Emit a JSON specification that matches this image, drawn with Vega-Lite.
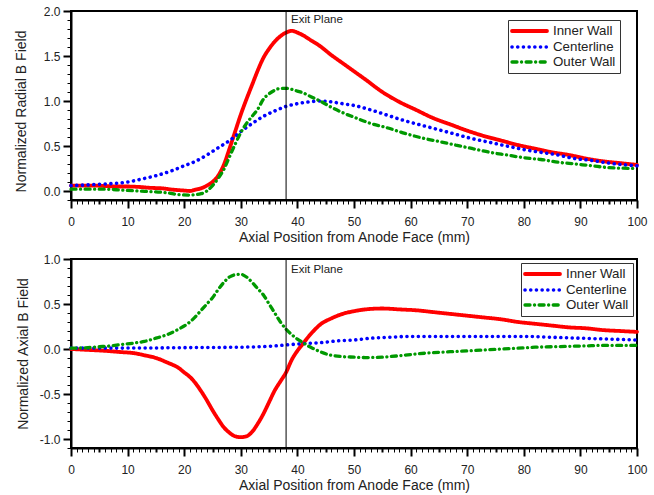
{
  "$schema": "https://vega.github.io/schema/vega-lite/v6.json",
  "background": "white",
  "padding": {"left": 13, "top": 4, "right": 5, "bottom": 5},
  "bounds": "flush",
  "spacing": 59,
  "config": {
    "font": "Liberation Sans",
    "view": {"stroke": "black", "strokeWidth": 2},
    "axis": {
      "domainColor": "black", "domainWidth": 2, "tickColor": "black", "grid": false,
      "labelColor": "#222", "titleColor": "#222", "labelFont": "Liberation Sans", "titleFont": "Liberation Sans",
      "labelFontSize": 12, "titleFontSize": 14, "titleFontWeight": "normal", "labelOverlap": false, "labelFlush": false, "labelBound": false
    },
    "legend": {
      "orient": "none", "title": null, "symbolType": "M-1.4,0H5.6", "symbolSize": 100,
      "labelFont": "Liberation Sans", "labelFontSize": 13.3, "labelColor": "#222", "labelOffset": 27,
      "padding": 4, "rowPadding": 0, "strokeColor": "#333", "fillColor": "white", "cornerRadius": 0
    }
  },
  "datasets": {
    "radial": [
      {"s":"Inner Wall","x":0,"y":0.06},{"s":"Inner Wall","x":2,"y":0.06},{"s":"Inner Wall","x":4,"y":0.06},{"s":"Inner Wall","x":6,"y":0.055},{"s":"Inner Wall","x":8,"y":0.05},{"s":"Inner Wall","x":10,"y":0.05},{"s":"Inner Wall","x":12,"y":0.045},{"s":"Inner Wall","x":14,"y":0.035},{"s":"Inner Wall","x":16,"y":0.03},{"s":"Inner Wall","x":18,"y":0.015},{"s":"Inner Wall","x":20,"y":0.005},{"s":"Inner Wall","x":21,"y":0.0},{"s":"Inner Wall","x":22,"y":0.015},{"s":"Inner Wall","x":23,"y":0.03},{"s":"Inner Wall","x":24,"y":0.06},{"s":"Inner Wall","x":25,"y":0.1},{"s":"Inner Wall","x":26,"y":0.17},{"s":"Inner Wall","x":27,"y":0.29},{"s":"Inner Wall","x":28,"y":0.47},{"s":"Inner Wall","x":29,"y":0.66},{"s":"Inner Wall","x":30,"y":0.85},{"s":"Inner Wall","x":31,"y":1.02},{"s":"Inner Wall","x":32,"y":1.18},{"s":"Inner Wall","x":33,"y":1.34},{"s":"Inner Wall","x":34,"y":1.48},{"s":"Inner Wall","x":35,"y":1.58},{"s":"Inner Wall","x":36,"y":1.66},{"s":"Inner Wall","x":37,"y":1.72},{"s":"Inner Wall","x":38,"y":1.76},{"s":"Inner Wall","x":39,"y":1.78},{"s":"Inner Wall","x":40,"y":1.76},{"s":"Inner Wall","x":41,"y":1.73},{"s":"Inner Wall","x":42,"y":1.69},{"s":"Inner Wall","x":44,"y":1.61},{"s":"Inner Wall","x":46,"y":1.51},{"s":"Inner Wall","x":48,"y":1.42},{"s":"Inner Wall","x":50,"y":1.33},{"s":"Inner Wall","x":52,"y":1.24},{"s":"Inner Wall","x":55,"y":1.1},{"s":"Inner Wall","x":58,"y":0.99},{"s":"Inner Wall","x":61,"y":0.9},{"s":"Inner Wall","x":64,"y":0.81},{"s":"Inner Wall","x":67,"y":0.74},{"s":"Inner Wall","x":70,"y":0.67},{"s":"Inner Wall","x":73,"y":0.61},{"s":"Inner Wall","x":76,"y":0.56},{"s":"Inner Wall","x":79,"y":0.51},{"s":"Inner Wall","x":82,"y":0.47},{"s":"Inner Wall","x":85,"y":0.43},{"s":"Inner Wall","x":88,"y":0.4},{"s":"Inner Wall","x":91,"y":0.36},{"s":"Inner Wall","x":94,"y":0.33},{"s":"Inner Wall","x":97,"y":0.31},{"s":"Inner Wall","x":100,"y":0.29},
      {"s":"Centerline","x":0,"y":0.06},{"s":"Centerline","x":5,"y":0.075},{"s":"Centerline","x":10,"y":0.1},{"s":"Centerline","x":13,"y":0.14},{"s":"Centerline","x":15,"y":0.17},{"s":"Centerline","x":18,"y":0.23},{"s":"Centerline","x":20,"y":0.28},{"s":"Centerline","x":22,"y":0.33},{"s":"Centerline","x":24,"y":0.4},{"s":"Centerline","x":26,"y":0.48},{"s":"Centerline","x":28,"y":0.56},{"s":"Centerline","x":30,"y":0.66},{"s":"Centerline","x":32,"y":0.75},{"s":"Centerline","x":34,"y":0.83},{"s":"Centerline","x":36,"y":0.89},{"s":"Centerline","x":38,"y":0.94},{"s":"Centerline","x":40,"y":0.97},{"s":"Centerline","x":42,"y":0.99},{"s":"Centerline","x":44,"y":1.0},{"s":"Centerline","x":46,"y":0.99},{"s":"Centerline","x":48,"y":0.97},{"s":"Centerline","x":50,"y":0.95},{"s":"Centerline","x":53,"y":0.9},{"s":"Centerline","x":56,"y":0.84},{"s":"Centerline","x":59,"y":0.78},{"s":"Centerline","x":62,"y":0.73},{"s":"Centerline","x":65,"y":0.68},{"s":"Centerline","x":68,"y":0.63},{"s":"Centerline","x":71,"y":0.58},{"s":"Centerline","x":74,"y":0.54},{"s":"Centerline","x":77,"y":0.5},{"s":"Centerline","x":80,"y":0.46},{"s":"Centerline","x":83,"y":0.43},{"s":"Centerline","x":86,"y":0.4},{"s":"Centerline","x":89,"y":0.36},{"s":"Centerline","x":92,"y":0.34},{"s":"Centerline","x":95,"y":0.31},{"s":"Centerline","x":98,"y":0.29},{"s":"Centerline","x":100,"y":0.28},
      {"s":"Outer Wall","x":0,"y":0.02},{"s":"Outer Wall","x":3,"y":0.02},{"s":"Outer Wall","x":6,"y":0.02},{"s":"Outer Wall","x":9,"y":0.01},{"s":"Outer Wall","x":12,"y":0.0},{"s":"Outer Wall","x":15,"y":-0.01},{"s":"Outer Wall","x":17,"y":-0.02},{"s":"Outer Wall","x":19,"y":-0.04},{"s":"Outer Wall","x":21,"y":-0.045},{"s":"Outer Wall","x":23,"y":-0.03},{"s":"Outer Wall","x":24,"y":0.0},{"s":"Outer Wall","x":25,"y":0.06},{"s":"Outer Wall","x":26,"y":0.14},{"s":"Outer Wall","x":27,"y":0.24},{"s":"Outer Wall","x":28,"y":0.38},{"s":"Outer Wall","x":29,"y":0.52},{"s":"Outer Wall","x":30,"y":0.65},{"s":"Outer Wall","x":31,"y":0.75},{"s":"Outer Wall","x":32,"y":0.83},{"s":"Outer Wall","x":33,"y":0.91},{"s":"Outer Wall","x":34,"y":1.02},{"s":"Outer Wall","x":35,"y":1.08},{"s":"Outer Wall","x":36,"y":1.12},{"s":"Outer Wall","x":37,"y":1.14},{"s":"Outer Wall","x":38,"y":1.14},{"s":"Outer Wall","x":39,"y":1.13},{"s":"Outer Wall","x":40,"y":1.11},{"s":"Outer Wall","x":41,"y":1.09},{"s":"Outer Wall","x":42,"y":1.06},{"s":"Outer Wall","x":43,"y":1.03},{"s":"Outer Wall","x":44,"y":1.0},{"s":"Outer Wall","x":46,"y":0.93},{"s":"Outer Wall","x":48,"y":0.87},{"s":"Outer Wall","x":50,"y":0.82},{"s":"Outer Wall","x":53,"y":0.75},{"s":"Outer Wall","x":56,"y":0.7},{"s":"Outer Wall","x":59,"y":0.64},{"s":"Outer Wall","x":62,"y":0.59},{"s":"Outer Wall","x":65,"y":0.55},{"s":"Outer Wall","x":68,"y":0.51},{"s":"Outer Wall","x":71,"y":0.47},{"s":"Outer Wall","x":74,"y":0.43},{"s":"Outer Wall","x":77,"y":0.4},{"s":"Outer Wall","x":80,"y":0.37},{"s":"Outer Wall","x":83,"y":0.35},{"s":"Outer Wall","x":86,"y":0.32},{"s":"Outer Wall","x":89,"y":0.3},{"s":"Outer Wall","x":92,"y":0.28},{"s":"Outer Wall","x":95,"y":0.26},{"s":"Outer Wall","x":100,"y":0.25}
    ],
    "axial": [
      {"s":"Inner Wall","x":0,"y":0.0},{"s":"Inner Wall","x":3,"y":-0.01},{"s":"Inner Wall","x":6,"y":-0.02},{"s":"Inner Wall","x":9,"y":-0.035},{"s":"Inner Wall","x":11,"y":-0.045},{"s":"Inner Wall","x":13,"y":-0.07},{"s":"Inner Wall","x":15,"y":-0.1},{"s":"Inner Wall","x":17,"y":-0.15},{"s":"Inner Wall","x":19,"y":-0.21},{"s":"Inner Wall","x":20,"y":-0.26},{"s":"Inner Wall","x":21,"y":-0.31},{"s":"Inner Wall","x":22,"y":-0.38},{"s":"Inner Wall","x":23,"y":-0.47},{"s":"Inner Wall","x":24,"y":-0.57},{"s":"Inner Wall","x":25,"y":-0.68},{"s":"Inner Wall","x":26,"y":-0.78},{"s":"Inner Wall","x":27,"y":-0.87},{"s":"Inner Wall","x":28,"y":-0.93},{"s":"Inner Wall","x":29,"y":-0.97},{"s":"Inner Wall","x":30,"y":-0.98},{"s":"Inner Wall","x":31,"y":-0.97},{"s":"Inner Wall","x":32,"y":-0.92},{"s":"Inner Wall","x":33,"y":-0.83},{"s":"Inner Wall","x":34,"y":-0.72},{"s":"Inner Wall","x":35,"y":-0.59},{"s":"Inner Wall","x":36,"y":-0.46},{"s":"Inner Wall","x":37,"y":-0.36},{"s":"Inner Wall","x":38,"y":-0.26},{"s":"Inner Wall","x":39,"y":-0.12},{"s":"Inner Wall","x":40,"y":-0.02},{"s":"Inner Wall","x":41,"y":0.06},{"s":"Inner Wall","x":42,"y":0.14},{"s":"Inner Wall","x":43,"y":0.21},{"s":"Inner Wall","x":44,"y":0.27},{"s":"Inner Wall","x":46,"y":0.34},{"s":"Inner Wall","x":48,"y":0.39},{"s":"Inner Wall","x":50,"y":0.42},{"s":"Inner Wall","x":52,"y":0.44},{"s":"Inner Wall","x":55,"y":0.45},{"s":"Inner Wall","x":58,"y":0.44},{"s":"Inner Wall","x":61,"y":0.43},{"s":"Inner Wall","x":64,"y":0.41},{"s":"Inner Wall","x":67,"y":0.39},{"s":"Inner Wall","x":70,"y":0.37},{"s":"Inner Wall","x":73,"y":0.35},{"s":"Inner Wall","x":76,"y":0.33},{"s":"Inner Wall","x":79,"y":0.3},{"s":"Inner Wall","x":82,"y":0.28},{"s":"Inner Wall","x":85,"y":0.26},{"s":"Inner Wall","x":88,"y":0.24},{"s":"Inner Wall","x":91,"y":0.23},{"s":"Inner Wall","x":94,"y":0.21},{"s":"Inner Wall","x":97,"y":0.2},{"s":"Inner Wall","x":100,"y":0.19},
      {"s":"Centerline","x":0,"y":0.01},{"s":"Centerline","x":10,"y":0.01},{"s":"Centerline","x":20,"y":0.015},{"s":"Centerline","x":30,"y":0.02},{"s":"Centerline","x":35,"y":0.03},{"s":"Centerline","x":38,"y":0.045},{"s":"Centerline","x":41,"y":0.06},{"s":"Centerline","x":44,"y":0.07},{"s":"Centerline","x":47,"y":0.09},{"s":"Centerline","x":50,"y":0.1},{"s":"Centerline","x":53,"y":0.12},{"s":"Centerline","x":56,"y":0.13},{"s":"Centerline","x":60,"y":0.14},{"s":"Centerline","x":70,"y":0.14},{"s":"Centerline","x":80,"y":0.14},{"s":"Centerline","x":85,"y":0.13},{"s":"Centerline","x":90,"y":0.12},{"s":"Centerline","x":95,"y":0.11},{"s":"Centerline","x":100,"y":0.1},
      {"s":"Outer Wall","x":0,"y":0.01},{"s":"Outer Wall","x":3,"y":0.015},{"s":"Outer Wall","x":5,"y":0.025},{"s":"Outer Wall","x":7,"y":0.035},{"s":"Outer Wall","x":9,"y":0.05},{"s":"Outer Wall","x":11,"y":0.065},{"s":"Outer Wall","x":13,"y":0.085},{"s":"Outer Wall","x":15,"y":0.12},{"s":"Outer Wall","x":17,"y":0.16},{"s":"Outer Wall","x":19,"y":0.22},{"s":"Outer Wall","x":21,"y":0.3},{"s":"Outer Wall","x":22,"y":0.36},{"s":"Outer Wall","x":23,"y":0.43},{"s":"Outer Wall","x":24,"y":0.5},{"s":"Outer Wall","x":25,"y":0.57},{"s":"Outer Wall","x":26,"y":0.66},{"s":"Outer Wall","x":27,"y":0.74},{"s":"Outer Wall","x":28,"y":0.8},{"s":"Outer Wall","x":29,"y":0.825},{"s":"Outer Wall","x":30,"y":0.83},{"s":"Outer Wall","x":31,"y":0.8},{"s":"Outer Wall","x":32,"y":0.74},{"s":"Outer Wall","x":33,"y":0.67},{"s":"Outer Wall","x":34,"y":0.6},{"s":"Outer Wall","x":35,"y":0.5},{"s":"Outer Wall","x":36,"y":0.4},{"s":"Outer Wall","x":37,"y":0.3},{"s":"Outer Wall","x":38,"y":0.22},{"s":"Outer Wall","x":39,"y":0.16},{"s":"Outer Wall","x":40,"y":0.11},{"s":"Outer Wall","x":41,"y":0.07},{"s":"Outer Wall","x":42,"y":0.03},{"s":"Outer Wall","x":43,"y":0.0},{"s":"Outer Wall","x":44,"y":-0.03},{"s":"Outer Wall","x":46,"y":-0.07},{"s":"Outer Wall","x":48,"y":-0.085},{"s":"Outer Wall","x":50,"y":-0.09},{"s":"Outer Wall","x":52,"y":-0.095},{"s":"Outer Wall","x":55,"y":-0.09},{"s":"Outer Wall","x":58,"y":-0.075},{"s":"Outer Wall","x":61,"y":-0.055},{"s":"Outer Wall","x":64,"y":-0.04},{"s":"Outer Wall","x":67,"y":-0.03},{"s":"Outer Wall","x":70,"y":-0.02},{"s":"Outer Wall","x":73,"y":-0.01},{"s":"Outer Wall","x":76,"y":0.0},{"s":"Outer Wall","x":79,"y":0.01},{"s":"Outer Wall","x":82,"y":0.02},{"s":"Outer Wall","x":85,"y":0.025},{"s":"Outer Wall","x":88,"y":0.03},{"s":"Outer Wall","x":91,"y":0.035},{"s":"Outer Wall","x":94,"y":0.04},{"s":"Outer Wall","x":97,"y":0.04},{"s":"Outer Wall","x":100,"y":0.04}
    ]
  },
  "resolve": {"scale": {"color": "independent", "strokeDash": "independent", "strokeWidth": "independent"}, "legend": {"color": "independent", "strokeDash": "independent", "strokeWidth": "independent"}},
  "vconcat": [
    {
      "width": 566, "height": 189,
      "encoding": {
        "x": {"field": "x", "type": "quantitative", "scale": {"domain": [0, 100], "nice": false},
          "axis": {"title": "Axial Position from Anode Face (mm)", "values": [0,1,2,3,4,5,6,7,8,9,10,11,12,13,14,15,16,17,18,19,20,21,22,23,24,25,26,27,28,29,30,31,32,33,34,35,36,37,38,39,40,41,42,43,44,45,46,47,48,49,50,51,52,53,54,55,56,57,58,59,60,61,62,63,64,65,66,67,68,69,70,71,72,73,74,75,76,77,78,79,80,81,82,83,84,85,86,87,88,89,90,91,92,93,94,95,96,97,98,99,100],
            "labelExpr": "datum.value % 10 === 0 ? datum.label : ''", "labelOverlap": false,
            "tickSize": {"condition": {"test": "datum.value % 10 === 0", "value": 8}, "value": 4},
            "tickWidth": {"condition": {"test": "datum.value % 5 === 0", "value": 2}, "value": 1},
            "labelPadding": 8, "titlePadding": 3}},
        "y": {"field": "y", "type": "quantitative", "scale": {"domain": [-0.1, 2.0], "nice": false, "zero": false},
          "axis": {"title": "Normalized Radial B Field", "titleY": 100, "values": [-0.1,0,0.1,0.2,0.3,0.4,0.5,0.6,0.7,0.8,0.9,1,1.1,1.2,1.3,1.4,1.5,1.6,1.7,1.8,1.9,2],
            "labelExpr": "abs(round(datum.value*10)) % 5 === 0 ? replace(format(datum.value, '.1f'), '\u2212', '-') : ''", "labelOverlap": false,
            "tickSize": {"condition": {"test": "abs(round(datum.value*10)) % 5 === 0", "value": 8}, "value": 4},
            "tickWidth": {"condition": {"test": "abs(round(datum.value*10)) % 5 === 0", "value": 2}, "value": 1},
            "labelPadding": 3, "titlePadding": 15}}
      },
      "layer": [
        {
          "data": {"name": "radial"},
          "mark": {"type": "line", "strokeCap": "round", "interpolate": "monotone"},
          "encoding": {
            "color": {"field": "s", "type": "nominal", "scale": {"domain": ["Inner Wall", "Centerline", "Outer Wall"], "range": ["#ff0000", "#0000ff", "#009900"]},
              "legend": {"legendX": 437, "legendY": 9, "encode": {"symbols": {"update": {"strokeCap": {"value": "round"}, "fill": {"value": "transparent"}}}}}},
            "strokeDash": {"field": "s", "type": "nominal", "scale": {"domain": ["Inner Wall", "Centerline", "Outer Wall"], "range": [[1, 0], [0.1, 5.6], [5, 4.5, 0.1, 4.5]]},
              "legend": {"legendX": 437, "legendY": 9, "encode": {"symbols": {"update": {"strokeCap": {"value": "round"}, "fill": {"value": "transparent"}}}}}},
            "strokeWidth": {"field": "s", "type": "nominal", "scale": {"domain": ["Inner Wall", "Centerline", "Outer Wall"], "range": [3.8, 3.3, 3.4]},
              "legend": {"legendX": 437, "legendY": 9, "encode": {"symbols": {"update": {"strokeCap": {"value": "round"}, "fill": {"value": "transparent"}}}}}}
          }
        },
        {
          "data": {"values": [{"x": 38, "y": -0.1, "y2": 2.0}]},
          "mark": {"type": "rule", "color": "black", "strokeWidth": 1},
          "encoding": {"y2": {"field": "y2"}}
        },
        {
          "data": {"values": [{"x": 38, "y": 2.0, "label": "Exit Plane"}]},
          "mark": {"type": "text", "align": "left", "baseline": "top", "dx": 5, "dy": 3, "fontSize": 11.5, "color": "#222", "font": "Liberation Sans"},
          "encoding": {"text": {"field": "label"}}
        }
      ]
    },
    {
      "width": 566, "height": 189,
      "encoding": {
        "x": {"field": "x", "type": "quantitative", "scale": {"domain": [0, 100], "nice": false},
          "axis": {"title": "Axial Position from Anode Face (mm)", "values": [0,1,2,3,4,5,6,7,8,9,10,11,12,13,14,15,16,17,18,19,20,21,22,23,24,25,26,27,28,29,30,31,32,33,34,35,36,37,38,39,40,41,42,43,44,45,46,47,48,49,50,51,52,53,54,55,56,57,58,59,60,61,62,63,64,65,66,67,68,69,70,71,72,73,74,75,76,77,78,79,80,81,82,83,84,85,86,87,88,89,90,91,92,93,94,95,96,97,98,99,100],
            "labelExpr": "datum.value % 10 === 0 ? datum.label : ''", "labelOverlap": false,
            "tickSize": {"condition": {"test": "datum.value % 10 === 0", "value": 8}, "value": 4},
            "tickWidth": {"condition": {"test": "datum.value % 5 === 0", "value": 2}, "value": 1},
            "labelPadding": 8, "titlePadding": 3}},
        "y": {"field": "y", "type": "quantitative", "scale": {"domain": [-1.1, 1.0], "nice": false, "zero": false},
          "axis": {"title": "Normalized Axial B Field", "values": [-1.1,-1,-0.9,-0.8,-0.7,-0.6,-0.5,-0.4,-0.3,-0.2,-0.1,0,0.1,0.2,0.3,0.4,0.5,0.6,0.7,0.8,0.9,1],
            "labelExpr": "abs(round(datum.value*10)) % 5 === 0 ? replace(format(datum.value, '.1f'), '\u2212', '-') : ''", "labelOverlap": false,
            "tickSize": {"condition": {"test": "abs(round(datum.value*10)) % 5 === 0", "value": 8}, "value": 4},
            "tickWidth": {"condition": {"test": "abs(round(datum.value*10)) % 5 === 0", "value": 2}, "value": 1},
            "labelPadding": 3, "titlePadding": 9}}
      },
      "layer": [
        {
          "data": {"name": "axial"},
          "mark": {"type": "line", "strokeCap": "round", "interpolate": "monotone"},
          "encoding": {
            "color": {"field": "s", "type": "nominal", "scale": {"domain": ["Inner Wall", "Centerline", "Outer Wall"], "range": ["#ff0000", "#0000ff", "#009900"]},
              "legend": {"legendX": 450, "legendY": 4, "encode": {"symbols": {"update": {"strokeCap": {"value": "round"}, "fill": {"value": "transparent"}}}}}},
            "strokeDash": {"field": "s", "type": "nominal", "scale": {"domain": ["Inner Wall", "Centerline", "Outer Wall"], "range": [[1, 0], [0.1, 5.6], [5, 4.5, 0.1, 4.5]]},
              "legend": {"legendX": 450, "legendY": 4, "encode": {"symbols": {"update": {"strokeCap": {"value": "round"}, "fill": {"value": "transparent"}}}}}},
            "strokeWidth": {"field": "s", "type": "nominal", "scale": {"domain": ["Inner Wall", "Centerline", "Outer Wall"], "range": [3.8, 3.3, 3.4]},
              "legend": {"legendX": 450, "legendY": 4, "encode": {"symbols": {"update": {"strokeCap": {"value": "round"}, "fill": {"value": "transparent"}}}}}}
          }
        },
        {
          "data": {"values": [{"x": 38, "y": -1.1, "y2": 1.0}]},
          "mark": {"type": "rule", "color": "black", "strokeWidth": 1},
          "encoding": {"y2": {"field": "y2"}}
        },
        {
          "data": {"values": [{"x": 38, "y": 1.0, "label": "Exit Plane"}]},
          "mark": {"type": "text", "align": "left", "baseline": "top", "dx": 5, "dy": 5, "fontSize": 11.5, "color": "#222", "font": "Liberation Sans"},
          "encoding": {"text": {"field": "label"}}
        }
      ]
    }
  ]
}
